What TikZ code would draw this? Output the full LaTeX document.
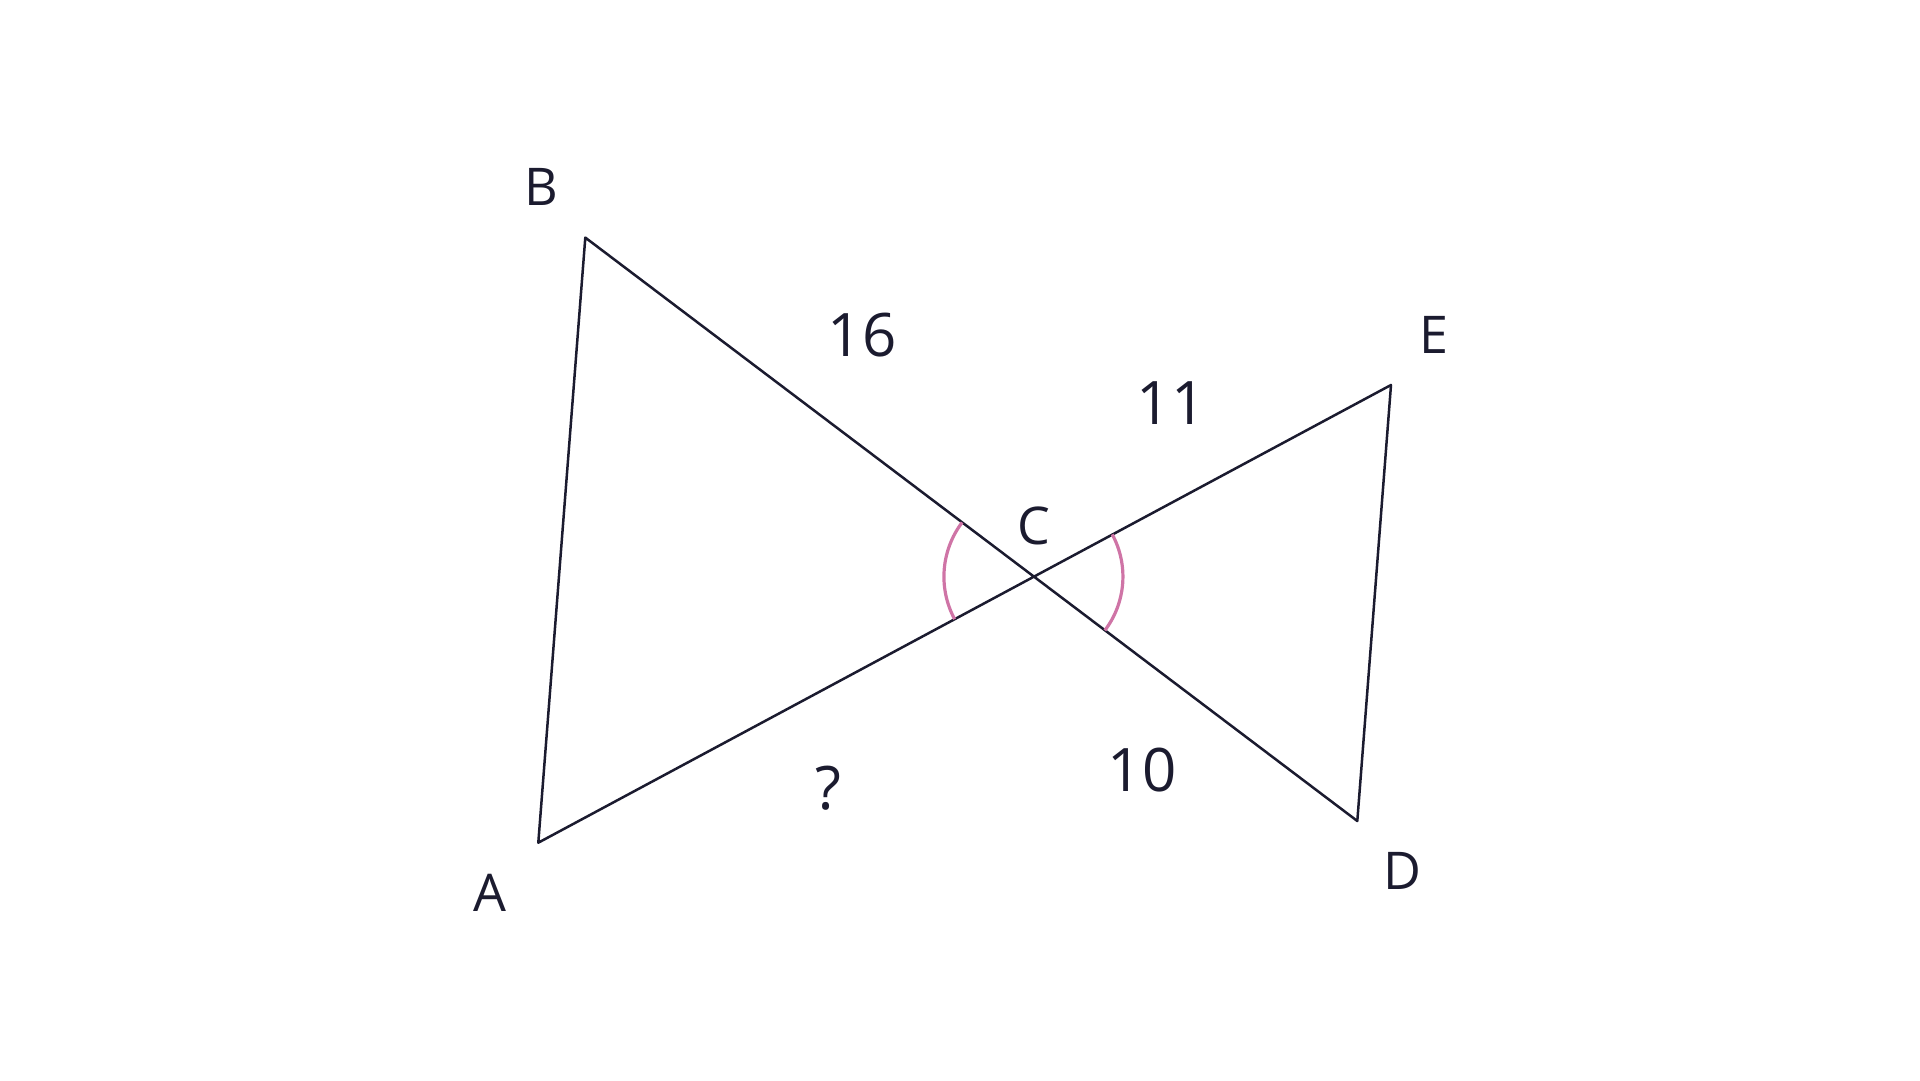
\documentclass[tikz,border=0pt]{standalone}
\usepackage{fontspec}
\setmainfont{Open Sans}
\usetikzlibrary{calc}
\definecolor{ink}{HTML}{1B1B2F}
\definecolor{anglecol}{HTML}{CF74A6}
\tikzset{
  seg/.style={draw=ink, line width=2.5pt, line join=round, line cap=round},
  anglearc/.style={draw=anglecol, line width=3.2pt},
  vlabel/.style={text=ink, inner sep=0pt, font=\fontsize{52}{60}\selectfont},
  nlabel/.style={text=ink, inner sep=0pt, font=\fontsize{60}{70}\selectfont}
}
\begin{document}
\begin{tikzpicture}[x=1pt,y=1pt]
\useasboundingbox (0,0) rectangle (1920,1080);
\coordinate (A) at (538.3,237.3);
\coordinate (B) at (585.3,842.4);
\coordinate (E) at (1391,695);
\coordinate (D) at (1357.3,259);
\coordinate (C) at (intersection of A--E and B--D);
\draw[seg] (A) -- (B) -- (D) -- (E) -- cycle;
\draw[anglearc] (C) ++(142.96:90) arc[start angle=142.96, end angle=208.14, radius=90];
\draw[anglearc] (C) ++(-37.13:89) arc[start angle=-37.13, end angle=28.33, radius=89];
\node[vlabel] (lA) at (490,187) {A};
\node[vlabel] (lB) at (541.5,893.5) {B};
\node[vlabel] (lC) at (1034,554) {C};
\node[vlabel] (lD) at (1402,209) {D};
\node[vlabel] (lE) at (1434,745) {E};
\node[nlabel] (n16) at (862,745) {16};
\node[nlabel] (n11) at (1171,677) {11};
\node[nlabel] (n10) at (1142,310) {10};
\node[nlabel] (nq) at (828,292) {?};
\end{tikzpicture}
\end{document}
